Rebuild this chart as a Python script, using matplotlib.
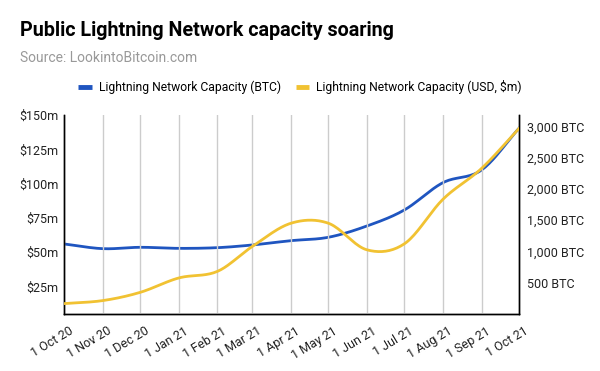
import numpy as np
import matplotlib
matplotlib.use("Agg")
import matplotlib.pyplot as plt
import matplotlib.dates as mdates
import matplotlib.transforms as mtransforms
from matplotlib.lines import Line2D
import datetime as dt

plt.rcParams['font.family'] = ['Roboto', 'DejaVu Sans']

months = ["2020-10-01", "2020-11-01", "2020-12-01", "2021-01-01", "2021-02-01",
          "2021-03-01", "2021-04-01", "2021-05-01", "2021-06-01", "2021-07-01",
          "2021-08-01", "2021-09-01", "2021-10-01"]
capacity_btc = [1120, 1045, 1067, 1050, 1061, 1104, 1173, 1227, 1408, 1664, 2101, 2304, 2971]
capacity_usd_m = [12.6, 14.8, 20.8, 31.3, 36.1, 54.3, 71.2, 71.2, 51.8, 56.2, 88.7, 111.2, 140.3]
tick_labels = ["1 Oct 20", "1 Nov 20", "1 Dec 20", "1 Jan 21", "1 Feb 21", "1 Mar 21",
               "1 Apr 21", "1 May 21", "1 Jun 21", "1 Jul 21", "1 Aug 21", "1 Sep 21", "1 Oct 21"]
left_ticks = [25, 50, 75, 100, 125, 150]
right_ticks = [500, 1000, 1500, 2000, 2500, 3000]

BLUE = "#1f55c0"
YELLOW = "#f1c232"

dates = [dt.datetime.strptime(m, "%Y-%m-%d") for m in months]
xn = mdates.date2num(dates)


def smooth(x, y, n=20):
    x = np.asarray(x, float)
    y = np.asarray(y, float)
    m = np.zeros_like(y)
    for i in range(len(y)):
        if i == 0:
            m[i] = (y[1] - y[0]) / (x[1] - x[0])
        elif i == len(y) - 1:
            m[i] = (y[-1] - y[-2]) / (x[-1] - x[-2])
        else:
            m[i] = (y[i + 1] - y[i - 1]) / (x[i + 1] - x[i - 1])
    xs, ys = [], []
    for i in range(len(y) - 1):
        h = x[i + 1] - x[i]
        t = np.linspace(0, 1, n, endpoint=False)
        h00 = 2 * t**3 - 3 * t**2 + 1
        h10 = t**3 - 2 * t**2 + t
        h01 = -2 * t**3 + 3 * t**2
        h11 = t**3 - t**2
        xs.append(x[i] + t * h)
        ys.append(h00 * y[i] + h10 * h * m[i] + h01 * y[i + 1] + h11 * h * m[i + 1])
    xs.append([x[-1]])
    ys.append([y[-1]])
    return np.concatenate(xs), np.concatenate(ys)


fig = plt.figure(figsize=(6, 3.71), dpi=100)
ax = fig.add_axes([0.107, 0.1536, 0.758, 0.536])
ax2 = ax.twinx()

sx, sy = smooth(xn, capacity_usd_m)
ax.plot(sx, sy, color=YELLOW, lw=2, zorder=3)
bx, by = smooth(xn, capacity_btc)
ax2.plot(bx, by, color=BLUE, lw=2, zorder=2)

ax.set_zorder(ax2.get_zorder() + 1)
ax.patch.set_visible(False)

ax.set_xlim(xn[0], xn[-1])
ax.set_ylim(5, 150)
ax2.set_ylim(0, 3180)

ax.set_xticks(xn)
ax.set_xticklabels([])
blend = mtransforms.blended_transform_factory(ax.transData, ax.transAxes)
offset = mtransforms.ScaledTranslation(8 / 100, -16 / 100, fig.dpi_scale_trans)
for x, lab in zip(xn, tick_labels):
    ax.text(x, 0, lab, transform=blend + offset, rotation=31, ha="right", va="center",
            rotation_mode="anchor", fontsize=9, color="#222222", clip_on=False)

ax.set_yticks(left_ticks)
ax.set_yticklabels([f"${v}m" for v in left_ticks], fontsize=9)
ax2.set_yticks(right_ticks)
ax2.set_yticklabels([f"{v:,} BTC" for v in right_ticks], fontsize=9)

ax.grid(axis="x", color="#cccccc", lw=1)
ax.tick_params(axis="both", length=0, pad=4, colors="#222222")
ax2.tick_params(axis="y", length=0, pad=6, colors="#222222")

for a in (ax, ax2):
    a.spines["top"].set_visible(False)
    for s in ("left", "right", "bottom"):
        a.spines[s].set_color("#000000")
        a.spines[s].set_linewidth(1)

fig.text(20 / 600, 1 - 31 / 371, "Public Lightning Network capacity soaring",
         fontsize=14.2, fontweight="bold", color="#000000", va="center")
fig.text(20 / 600, 1 - 58 / 371, "Source: LookintoBitcoin.com",
         fontsize=10, color="#999999", va="center")

handles = [Line2D([], [], color=BLUE, lw=3.5, solid_capstyle="butt"),
           Line2D([], [], color=YELLOW, lw=3.5, solid_capstyle="butt")]
fig.legend(handles, ["Lightning Network Capacity (BTC)", "Lightning Network Capacity (USD, $m)"],
           loc="center", bbox_to_anchor=(0.5, 1 - 87 / 371), ncol=2, frameon=False,
           fontsize=8.7, handlelength=1.1, handletextpad=0.6, columnspacing=1.2)

fig.savefig("out.png", dpi=100)
